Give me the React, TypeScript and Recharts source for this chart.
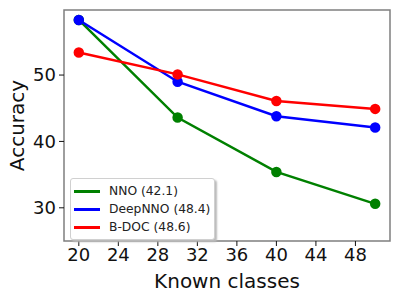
import { LineChart, Line, XAxis, YAxis, ReferenceArea } from 'recharts';

const knownClasses = [20, 30, 40, 50];
const nno = [58.3, 43.6, 35.4, 30.6];
const deepNno = [58.3, 49.0, 43.8, 42.1];
const bDoc = [53.4, 50.1, 46.1, 44.9];
const seriesNames = ['NNO (42.1)', 'DeepNNO (48.4)', 'B-DOC (48.6)'];
const seriesColors = ['#008000', '#0000ff', '#ff0000'];
const xTicks = [20, 24, 28, 32, 36, 40, 44, 48];
const yTicks = [30, 40, 50];

const data = knownClasses.map((k, i) => ({
    k,
    nno: nno[i],
    deepNno: deepNno[i],
    bDoc: bDoc[i],
}));

const font = '"DejaVu Sans", sans-serif';
const frame = '#7f7f7f';
const xDomain: [number, number] = [18.5, 51.5];
const yDomain: [number, number] = [25, 59.8];

function LegendBox() {
    return (
        <div style={{
            position: 'absolute',
            left: 70,
            top: 178,
            border: '1px solid #d0d0d0',
            borderRadius: 3,
            background: '#fff',
            boxShadow: '2px 2px 2px #bbb',
            padding: '3px 0 3px 3px',
            fontFamily: font,
            fontSize: 12.3,
            color: '#222',
            width: 145,
            boxSizing: 'border-box',
            whiteSpace: 'nowrap',
        }}>
            {seriesNames.map((n, i) => (
                <div key={n} style={{ display: 'flex', alignItems: 'center', height: 18 }}>
                    <span style={{ display: 'inline-block', width: 26, height: 3, background: seriesColors[i], marginRight: 9 }} />
                    {n}
                </div>
            ))}
        </div>
    );
}

export default function App() {
    return (
        <div style={{ position: 'absolute', left: 0, top: 0, width: 399, height: 299 }}>
            <LineChart width={399} height={299} data={data} margin={{ top: 10, right: 9, left: 0, bottom: 0 }}>
                <XAxis
                    dataKey="k"
                    type="number"
                    domain={xDomain}
                    ticks={xTicks}
                    height={58}
                    tickSize={5}
                    tickMargin={2}
                    tick={{ fill: '#111', fontSize: 18, fontFamily: font }}
                    tickLine={{ stroke: '#111' }}
                    axisLine={false}
                    label={{ value: 'Known classes', position: 'insideBottom', offset: 11, fontSize: 20, fontFamily: font, fill: '#111' }}
                />
                <YAxis
                    type="number"
                    domain={yDomain}
                    ticks={yTicks}
                    width={64}
                    tickSize={5}
                    tickMargin={3}
                    tick={{ fill: '#111', fontSize: 18, fontFamily: font }}
                    tickLine={{ stroke: '#111' }}
                    axisLine={false}
                    label={{ value: 'Accuracy', angle: -90, position: 'insideLeft', offset: 17, fontSize: 20, fontFamily: font, fill: '#111', style: { textAnchor: 'middle' } }}
                />
                <ReferenceArea x1={xDomain[0]} x2={xDomain[1]} y1={yDomain[0]} y2={yDomain[1]}
                    fill="none" stroke={frame} strokeWidth={1.5} ifOverflow="visible" />
                <Line name={seriesNames[0]} dataKey="nno" stroke={seriesColors[0]} strokeWidth={2.5}
                    dot={{ r: 4, fill: seriesColors[0], stroke: seriesColors[0] }} isAnimationActive={false} />
                <Line name={seriesNames[1]} dataKey="deepNno" stroke={seriesColors[1]} strokeWidth={2.5}
                    dot={{ r: 4, fill: seriesColors[1], stroke: seriesColors[1] }} isAnimationActive={false} />
                <Line name={seriesNames[2]} dataKey="bDoc" stroke={seriesColors[2]} strokeWidth={2.5}
                    dot={{ r: 4, fill: seriesColors[2], stroke: seriesColors[2] }} isAnimationActive={false} />
            </LineChart>
            <LegendBox />
        </div>
    );
}
